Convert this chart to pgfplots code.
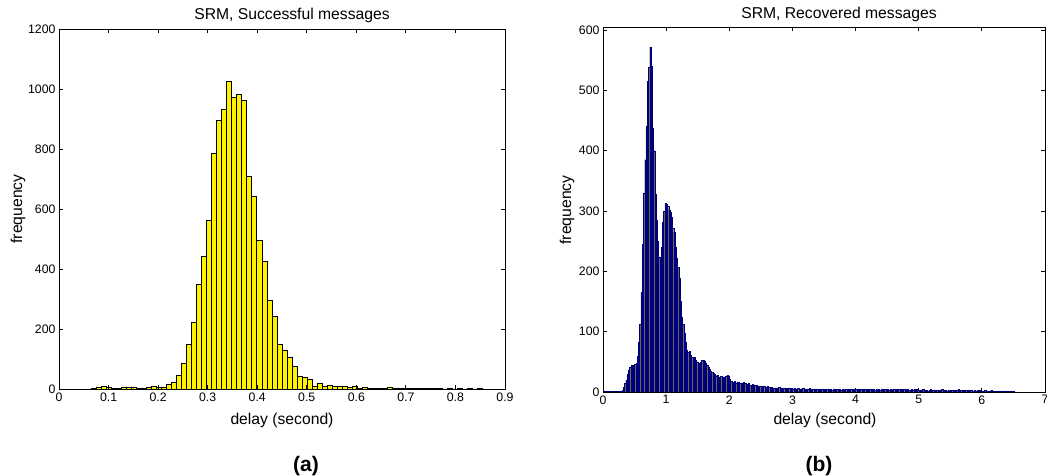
\documentclass[border=0pt]{standalone}
\usepackage{pgfplots}
\pgfplotsset{compat=1.18}
\usepackage{fontspec}
\setmainfont{Liberation Sans}
\definecolor{barnavy}{RGB}{0,0,125}
\definecolor{barfill}{RGB}{105,103,88}
\begin{document}
\begin{tikzpicture}
\path[use as bounding box] (0pt,0pt) rectangle (1047pt,476pt);
\pgfplotsset{every axis/.append style={
  scale only axis, enlargelimits=false, tick align=inside,
  major tick length=4pt, every tick/.style={black,line width=0.9pt},
  axis line style={line width=0.8pt},
  tick label style={font=\fontsize{12.3}{14}\selectfont},
  /pgf/number format/assume math mode=true,
  /pgf/number format/1000 sep={},
}}
\begin{axis}[at={(59pt,87pt)}, anchor=south west, width=446pt, height=360pt,
  xmin=0, xmax=0.9, ymin=0, ymax=1200, axis on top,
  xtick={0,0.1,0.2,0.3,0.4,0.5,0.6,0.7,0.8,0.9},
  ytick={0,200,400,600,800,1000,1200}]
\addplot[ybar, bar width=0.0101, fill=yellow, draw=black, line width=0.6pt] coordinates {
(0.0709,1) (0.0810,5) (0.0911,8) (0.1012,6) (0.1113,3) (0.1214,2) (0.1315,4) (0.1416,4) (0.1517,7) (0.1618,3)
(0.1719,3) (0.1820,5) (0.1921,8) (0.2022,5) (0.2123,6)
(0.2224,16) (0.2325,23) (0.2426,45) (0.2527,87) (0.2628,148) (0.2729,223) (0.2830,348) (0.2931,443)
(0.3032,563) (0.3133,785) (0.3234,896) (0.3335,933) (0.3436,1026) (0.3537,972) (0.3638,983) (0.3739,962)
(0.3840,709) (0.3941,642) (0.4042,496) (0.4143,425) (0.4244,294) (0.4345,243) (0.4446,148) (0.4547,130)
(0.4648,105) (0.4749,74) (0.4850,41) (0.4951,39) (0.5052,33) (0.5153,8) (0.5254,19) (0.5355,8) (0.5456,12)
(0.5557,8) (0.5658,8) (0.5759,8) (0.5860,5) (0.5961,9) (0.6062,3) (0.6163,4) (0.6264,2) (0.6365,3) (0.6466,3)
(0.6567,2) (0.6668,4) (0.6769,2) (0.6870,3) (0.6971,2) (0.7072,3) (0.7173,2) (0.7274,3) (0.7375,1) (0.7476,2)
(0.7577,1) (0.7678,1) (0.7779,0) (0.7880,1) (0.7981,0) (0.8082,1) (0.8183,0) (0.8284,1) (0.8385,0) (0.8486,1)
};
\end{axis}
\begin{axis}[at={(603pt,84pt)}, anchor=south west, width=442pt, height=365pt,
  xmin=0, xmax=7, ymin=0, ymax=605,
  xtick={0,1,2,3,4,5,6,7},
  ytick={0,100,200,300,400,500,600}]
\addplot[barnavy, line width=2.2pt, forget plot] coordinates {(0,0) (6.52,0)};
\addplot[ybar, bar width=0.02, fill=barfill, draw=barnavy, line width=0.3pt] coordinates {
(0.31,3) (0.33,8) (0.35,14) (0.37,20) (0.39,30) (0.41,37) (0.43,41) (0.45,44) (0.47,45) (0.49,42)
(0.51,46) (0.53,48) (0.55,60) (0.57,82) (0.59,112) (0.61,165) (0.63,245) (0.65,330) (0.67,385) (0.69,440)
(0.71,515) (0.73,538) (0.75,572) (0.77,540) (0.79,438) (0.81,400) (0.83,328) (0.85,285) (0.87,250) (0.89,224)
(0.91,204) (0.93,240) (0.95,282) (0.97,300) (0.99,313) (1.01,311) (1.03,308) (1.05,302) (1.07,298) (1.09,290)
(1.11,272) (1.13,265) (1.15,240) (1.17,222) (1.19,207) (1.21,188) (1.23,150) (1.25,124) (1.27,113) (1.29,98)
(1.31,82) (1.33,70) (1.35,66) (1.37,67) (1.39,61) (1.41,58) (1.43,55) (1.45,57) (1.47,52) (1.49,50)
(1.51,47) (1.53,46) (1.55,49) (1.57,52) (1.59,53) (1.61,51) (1.63,48) (1.65,44) (1.67,41) (1.69,38)
(1.71,34) (1.73,33) (1.75,31) (1.77,30) (1.79,27) (1.81,28) (1.83,25) (1.85,24) (1.87,26) (1.89,23)
(1.91,24) (1.93,25) (1.95,26) (1.97,28) (1.99,27) (2.01,22) (2.03,18) (2.05,17) (2.07,16) (2.09,18)
(2.11,15) (2.13,17) (2.15,16) (2.17,14) (2.19,15) (2.21,13) (2.23,16) (2.25,14) (2.27,13) (2.29,12)
(2.31,14) (2.33,12) (2.35,11) (2.37,13) (2.39,10) (2.41,12) (2.43,11) (2.45,10) (2.47,9) (2.49,10)
(2.51,8) (2.53,9) (2.55,10) (2.57,8) (2.59,7) (2.61,9) (2.63,8) (2.65,7) (2.67,8) (2.69,6)
(2.71,7) (2.73,6) (2.75,7) (2.77,6) (2.79,8) (2.81,6) (2.83,7) (2.85,5) (2.87,6) (2.89,7)
(2.91,5) (2.93,6) (2.95,7) (2.97,5) (2.99,6) (3.01,5) (3.03,6) (3.05,4) (3.07,5) (3.09,6)
(3.11,5) (3.13,4) (3.15,5) (3.17,6) (3.19,4) (3.21,5) (3.23,4) (3.25,5) (3.27,6) (3.29,4)
(3.31,5) (3.33,4) (3.35,3) (3.37,5) (3.39,4) (3.41,5) (3.43,4) (3.45,3) (3.47,4) (3.49,5)
(3.51,4) (3.53,3) (3.55,4) (3.57,5) (3.59,3) (3.61,4) (3.63,3) (3.65,4) (3.67,5) (3.69,3)
(3.71,4) (3.73,3) (3.75,4) (3.77,3) (3.79,4) (3.81,5) (3.83,3) (3.85,4) (3.87,3) (3.89,4)
(3.91,3) (3.93,4) (3.95,3) (3.97,4) (3.99,3) (4.01,4) (4.03,3) (4.05,5) (4.07,3) (4.09,4)
(4.11,3) (4.13,4) (4.15,5) (4.17,3) (4.19,4) (4.21,3) (4.23,4) (4.25,3) (4.27,5) (4.29,4)
(4.31,3) (4.33,4) (4.35,3) (4.37,4) (4.39,3) (4.41,4) (4.43,5) (4.45,3) (4.47,4) (4.49,3)
(4.51,4) (4.53,3) (4.55,4) (4.57,3) (4.59,4) (4.61,5) (4.63,3) (4.65,4) (4.67,3) (4.69,4)
(4.71,3) (4.73,4) (4.75,3) (4.77,4) (4.79,3) (4.81,4) (4.83,5) (4.85,3) (4.87,3) (4.89,4)
(4.91,3) (4.93,4) (4.95,3) (4.97,4) (4.99,3) (5.01,3) (5.03,2) (5.05,3) (5.07,4) (5.09,2)
(5.11,3) (5.13,3) (5.15,2) (5.17,3) (5.19,4) (5.21,2) (5.23,3) (5.25,2) (5.27,3) (5.29,3)
(5.31,2) (5.33,3) (5.35,2) (5.37,4) (5.39,3) (5.41,2) (5.43,3) (5.45,2) (5.47,3) (5.49,2)
(5.51,3) (5.53,3) (5.55,2) (5.57,3) (5.59,2) (5.61,3) (5.63,4) (5.65,2) (5.67,3) (5.69,2)
(5.71,3) (5.73,2) (5.75,3) (5.77,2) (5.79,3) (5.81,2) (5.83,3) (5.85,2) (5.87,2) (5.89,3)
(5.91,2) (5.93,3) (5.95,2) (5.97,3) (5.99,2) (6.01,2) (6.03,2) (6.05,3) (6.07,2) (6.09,1)
(6.11,2) (6.13,2) (6.15,3) (6.17,2) (6.19,1) (6.21,2) (6.23,2) (6.25,1) (6.27,2) (6.29,2)
(6.31,1) (6.33,2) (6.35,1) (6.37,2) (6.39,1) (6.41,2) (6.43,1) (6.45,1) (6.47,2) (6.49,1)
};
\end{axis}
\node[anchor=base, font=\fontsize{15.7}{18}\selectfont] at (292pt,456.7pt) {SRM, Successful messages};
\node[anchor=base, font=\fontsize{15.7}{18}\selectfont] at (839pt,457.7pt) {SRM, Recovered messages};
\node[anchor=base, font=\fontsize{15.7}{18}\selectfont] at (282pt,51pt) {delay (second)};
\node[anchor=base, font=\fontsize{15.7}{18}\selectfont] at (825pt,51pt) {delay (second)};
\node[rotate=90, anchor=center, font=\fontsize{15.7}{18}\selectfont] at (18pt,267pt) {frequency};
\node[rotate=90, anchor=center, font=\fontsize{15.7}{18}\selectfont] at (567pt,266pt) {frequency};
\node[anchor=base, font=\fontsize{21}{24}\selectfont\bfseries] at (306pt,4.5pt) {(a)};
\node[anchor=base, font=\fontsize{21}{24}\selectfont\bfseries] at (819pt,4.5pt) {(b)};
\end{tikzpicture}
\end{document}
